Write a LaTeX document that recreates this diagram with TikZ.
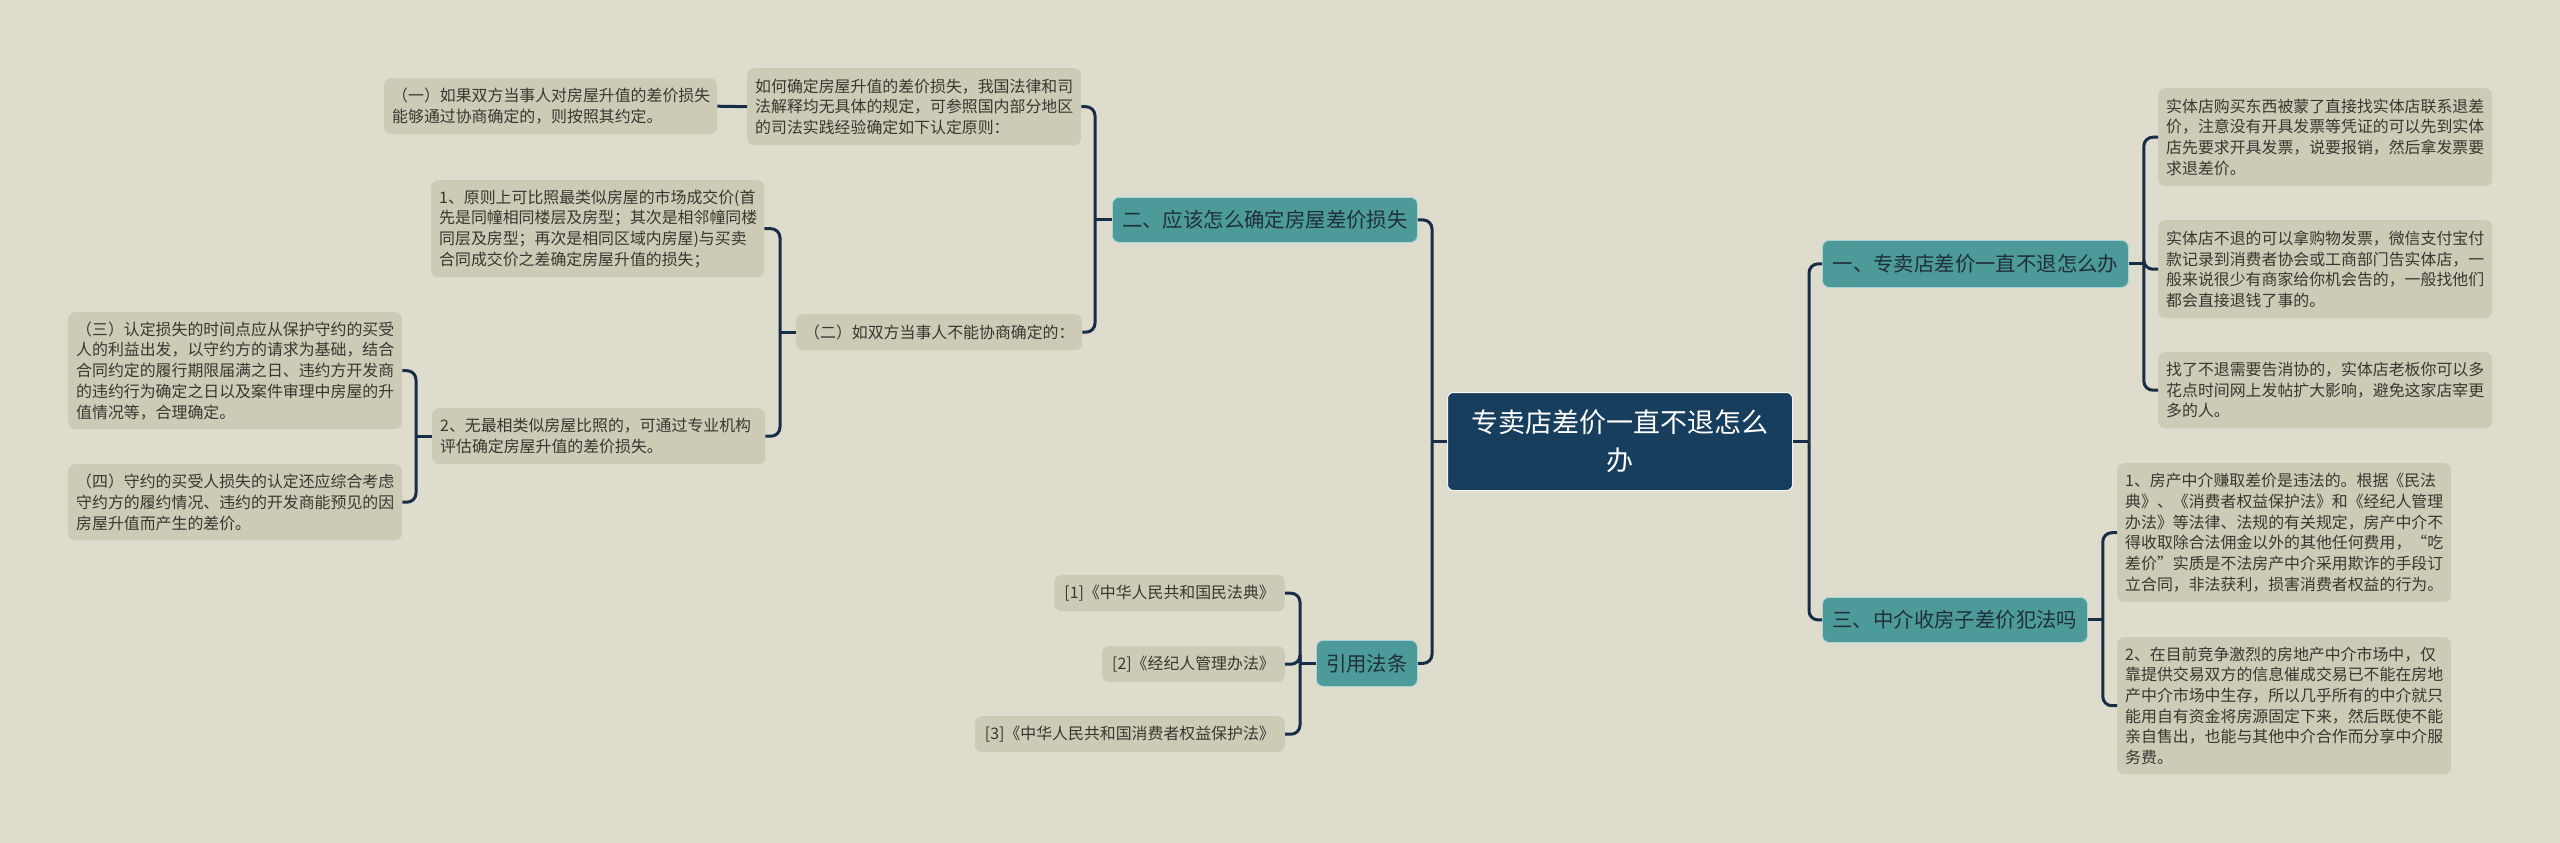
\documentclass[tikz,border=0pt]{standalone}
\usepackage{fontspec}
\setmainfont{Noto Sans CJK SC}
\usepackage{xcolor}
\usepackage{tikz}
\usetikzlibrary{positioning,calc}
\definecolor{fondo}{RGB}{222,220,205}
\definecolor{gris}{RGB}{205,203,182}
\definecolor{turquesa}{RGB}{76,154,154}
\definecolor{azul}{RGB}{24,62,94}
\definecolor{linea}{RGB}{24,45,72}
\definecolor{texto}{RGB}{55,55,50}
\definecolor{oscuro}{RGB}{32,48,58}
\tikzset{
  hoja/.style={fill=gris,rounded corners=7pt,inner xsep=8pt,inner ysep=0pt,align=left,anchor=north west,
    text=texto,font=\fontsize{15.9}{20.7}\selectfont},
  rama/.style={fill=turquesa,draw=white!55!turquesa,line width=0.8pt,rounded corners=7pt,inner sep=0pt,
    align=center,anchor=north west,text=oscuro,font=\fontsize{20.4}{24}\selectfont},
  raiz/.style={fill=azul,draw=white!75!fondo,line width=1pt,rounded corners=6pt,inner sep=0pt,
    align=center,anchor=north west,text=white,font=\fontsize{27}{38}\selectfont},
  enlace/.style={draw=linea,line width=3pt,rounded corners=9pt}
}
\begin{document}
\begin{tikzpicture}[x=1pt,y=-1pt]
\fill[fondo] (0,0) rectangle (2560,843);
% centro
\node[raiz,minimum width=345pt,minimum height=98pt] (centro) at (1447,392)
{专卖店差价一直不退怎么\\办};
% ramas
\node[rama,minimum width=306pt,minimum height=47pt] (uno) at (1822,240) {一、专卖店差价一直不退怎么办};
\node[rama,minimum width=265pt,minimum height=45pt] (tres) at (1822,597) {三、中介收房子差价犯法吗};
\node[rama,minimum width=305pt,minimum height=45pt] (dos) at (1112,197) {二、应该怎么确定房屋差价损失};
\node[rama,minimum width=101pt,minimum height=46pt] (leyes) at (1316,640) {引用法条};
% hojas de la derecha
\node[hoja,text width=318pt,minimum height=98pt] (a1) at (2158,88)
{实体店购买东西被蒙了直接找实体店联系退差\\价，注意没有开具发票等凭证的可以先到实体\\店先要求开具发票，说要报销，然后拿发票要\\求退差价。};
\node[hoja,text width=318pt,minimum height=98pt] (a2) at (2158,220)
{实体店不退的可以拿购物发票，微信支付宝付\\款记录到消费者协会或工商部门告实体店，一\\般来说很少有商家给你机会告的，一般找他们\\都会直接退钱了事的。};
\node[hoja,text width=318pt,minimum height=76pt] (a3) at (2158,352)
{找了不退需要告消协的，实体店老板你可以多\\花点时间网上发帖扩大影响，避免这家店宰更\\多的人。};
\node[hoja,text width=318pt,minimum height=139pt] (b1) at (2117,463)
{1、房产中介赚取差价是违法的。根据《民法\\典》、《消费者权益保护法》和《经纪人管理\\办法》等法律、法规的有关规定，房产中介不\\得收取除合法佣金以外的其他任何费用，“吃\\差价”实质是不法房产中介采用欺诈的手段订\\立合同，非法获利，损害消费者权益的行为。};
\node[hoja,text width=318pt,minimum height=137pt] (b2) at (2117,637)
{2、在目前竞争激烈的房地产中介市场中，仅\\靠提供交易双方的信息催成交易已不能在房地\\产中介市场中生存，所以几乎所有的中介就只\\能用自有资金将房源固定下来，然后既使不能\\亲自售出，也能与其他中介合作而分享中介服\\务费。};
% hojas de la izquierda
\node[hoja,text width=318pt,minimum height=77pt] (c1) at (747,68)
{如何确定房屋升值的差价损失，我国法律和司\\法解释均无具体的规定，可参照国内部分地区\\的司法实践经验确定如下认定原则：};
\node[hoja,text width=317pt,minimum height=56pt] (c0) at (384,78)
{（一）如果双方当事人对房屋升值的差价损失\\能够通过协商确定的，则按照其约定。};
\node[hoja,text width=270pt,minimum height=36pt] (c2) at (796,314)
{（二）如双方当事人不能协商确定的：};
\node[hoja,text width=317pt,minimum height=97pt] (d1) at (431,180)
{1、原则上可比照最类似房屋的市场成交价(首\\先是同幢相同楼层及房型；其次是相邻幢同楼\\同层及房型；再次是相同区域内房屋)与买卖\\合同成交价之差确定房屋升值的损失；};
\node[hoja,text width=317pt,minimum height=56pt] (d2) at (432,408)
{2、无最相类似房屋比照的，可通过专业机构\\评估确定房屋升值的差价损失。};
\node[hoja,text width=318pt,minimum height=117pt] (e1) at (68,312)
{（三）认定损失的时间点应从保护守约的买受\\人的利益出发，以守约方的请求为基础，结合\\合同约定的履行期限届满之日、违约方开发商\\的违约行为确定之日以及案件审理中房屋的升\\值情况等，合理确定。};
\node[hoja,text width=318pt,minimum height=76pt] (e2) at (68,464)
{（四）守约的买受人损失的认定还应综合考虑\\守约方的履约情况、违约的开发商能预见的因\\房屋升值而产生的差价。};
\node[hoja,anchor=north east,inner xsep=10pt,minimum height=36pt] (f1) at (1285,575) {[1]《中华人民共和国民法典》};
\node[hoja,anchor=north east,inner xsep=10pt,minimum height=36pt] (f2) at (1285,646) {[2]《经纪人管理办法》};
\node[hoja,anchor=north east,inner xsep=10pt,minimum height=36pt] (f3) at (1285,716) {[3]《中华人民共和国消费者权益保护法》};
% enlaces
\draw[enlace] (centro.east) -- ++(16,0) coordinate (jr);
\draw[enlace] (jr) |- (uno.west);
\draw[enlace] (jr) |- (tres.west);
\draw[enlace] (centro.west) -- ++(-15,0) coordinate (jl);
\draw[enlace] (jl) |- (dos.east);
\draw[enlace] (jl) |- (leyes.east);
\draw[enlace] (uno.east) -- ++(15,0) coordinate (j1);
\draw[enlace] (j1) |- (a1.west);
\draw[enlace] (j1) |- (a2.west);
\draw[enlace] (j1) |- (a3.west);
\draw[enlace] (tres.east) -- ++(15,0) coordinate (j3);
\draw[enlace] (j3) |- (b1.west);
\draw[enlace] (j3) |- (b2.west);
\draw[enlace] (dos.west) -- ++(-17,0) coordinate (j2);
\draw[enlace] (j2) |- (c1.east);
\draw[enlace] (j2) |- (c2.east);
\draw[enlace] (c1.west) -- (c0.east);
\draw[enlace] (c2.west) -- ++(-16,0) coordinate (jc);
\draw[enlace] (jc) |- (d1.east);
\draw[enlace] (jc) |- (d2.east);
\draw[enlace] (d2.west) -- ++(-16,0) coordinate (jd);
\draw[enlace] (jd) |- (e1.east);
\draw[enlace] (jd) |- (e2.east);
\draw[enlace] (leyes.west) -- ++(-16,0) coordinate (jf);
\draw[enlace] (jf) |- (f1.east);
\draw[enlace] (jf) |- (f2.east);
\draw[enlace] (jf) |- (f3.east);
\end{tikzpicture}
\end{document}
